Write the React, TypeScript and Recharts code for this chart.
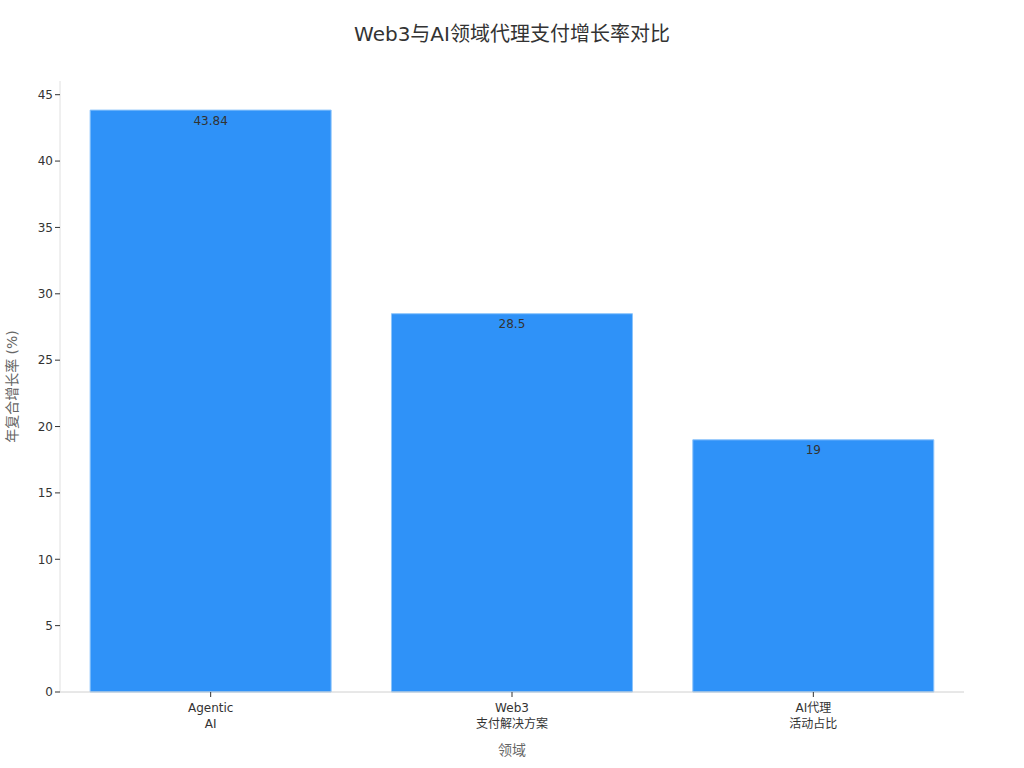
import React from 'react';
import { BarChart, Bar, XAxis, YAxis, LabelList } from 'recharts';

const categories = ['Agentic\nAI', 'Web3\n支付解决方案', 'AI代理\n活动占比'];
const growthRates = [43.84, 28.5, 19];
const yTicks = [0, 5, 10, 15, 20, 25, 30, 35, 40, 45];

const data = categories.map((name, i) => ({ name, value: growthRates[i] }));

const FONT = '"DejaVu Sans", "Noto Sans CJK SC", sans-serif';

const MultiLineTick = (props: any) => {
  const { x, y, payload } = props;
  const lines = String(payload.value).split('\n');
  return (
    <g transform={`translate(${x},${y})`}>
      {lines.map((line, i) => (
        <text
          key={i}
          x={0}
          y={13 + i * 16}
          textAnchor="middle"
          fontSize={12}
          fill="#333"
          fontFamily={FONT}
        >
          {line}
        </text>
      ))}
    </g>
  );
};

const App: React.FC = () => {
  return (
    <div style={{ position: 'absolute', left: 0, top: 0, width: 1024, height: 768, background: '#fff', fontFamily: FONT }}>
      <div
        style={{
          position: 'absolute',
          top: 18,
          left: 0,
          width: 1024,
          textAlign: 'center',
          fontSize: 20,
          color: '#333',
        }}
      >
        Web3与AI领域代理支付增长率对比
      </div>
      <BarChart
        width={1024}
        height={768}
        data={data}
        margin={{ top: 81, right: 60, left: 0, bottom: 0 }}
        barCategoryGap="10%"
      >
        <XAxis
          dataKey="name"
          height={76}
          axisLine={{ stroke: '#d0d0d0' }}
          tickLine={{ stroke: '#333' }}
          tickSize={5}
          tick={<MultiLineTick />}
          interval={0}
          label={{
            value: '领域',
            position: 'insideBottom',
            offset: 13,
            fill: '#666',
            fontSize: 14,
            fontFamily: FONT,
          }}
        />
        <YAxis
          width={60}
          domain={[0, 46.032]}
          ticks={yTicks}
          axisLine={{ stroke: '#e0e0e0' }}
          tickLine={{ stroke: '#333' }}
          tickSize={5}
          tick={{ fontSize: 12, fill: '#333', fontFamily: FONT }}
          label={{
            value: '年复合增长率 (%)',
            angle: -90,
            position: 'insideLeft',
            offset: 12,
            fill: '#666',
            fontSize: 14,
            fontFamily: FONT,
            style: { textAnchor: 'middle' },
          }}
        />
        <Bar
          dataKey="value"
          fill="#2F92F8"
          stroke="#8cc4fb"
          strokeWidth={1}
          isAnimationActive={false}
        >
          <LabelList
            dataKey="value"
            position="insideTop"
            offset={6}
            fill="#333"
            fontSize={12}
            fontFamily={FONT}
          />
        </Bar>
      </BarChart>
    </div>
  );
};

export default App;
